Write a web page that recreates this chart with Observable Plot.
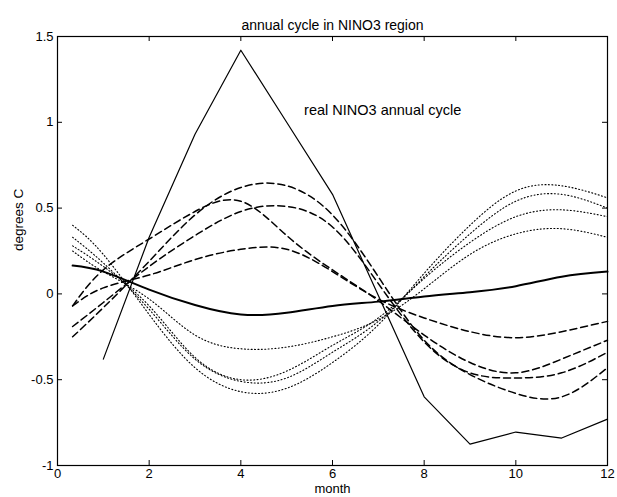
<!DOCTYPE html>
<html><head><meta charset="utf-8">
<script src="https://cdn.jsdelivr.net/npm/d3@7"></script>
<script src="https://cdn.jsdelivr.net/npm/@observablehq/plot@0.6"></script>
<style>html,body{margin:0;padding:0;background:#fff} svg{display:block}</style>
</head><body><div id="chart"></div>
<script>
// ---- data ----
const monthsSmooth = [0.33, 1, 2, 3, 4, 5, 6, 7, 8, 9, 10, 11, 12];
const monthsReal = [1, 2, 3, 4, 5, 6, 7, 8, 9, 10, 11, 12];
const realNino3 = [-0.38, 0.33, 0.93, 1.42, 1.00, 0.58, -0.01, -0.60, -0.875, -0.805, -0.84, -0.73];
const modelCycle = [0.165, 0.13, 0.025, -0.065, -0.12, -0.11, -0.07, -0.045, -0.015, 0.01, 0.045, 0.10, 0.13];
const dashedA = [-0.25, -0.08, 0.19, 0.46, 0.62, 0.63, 0.46, 0.10, -0.27, -0.47, -0.58, -0.60, -0.43];
const dashedB = [-0.07, 0.14, 0.32, 0.48, 0.54, 0.34, 0.14, -0.04, -0.24, -0.40, -0.46, -0.38, -0.27];
const dashedC = [-0.19, -0.05, 0.16, 0.34, 0.48, 0.51, 0.39, 0.06, -0.28, -0.46, -0.49, -0.46, -0.34];
const dashedD = [-0.07, 0.035, 0.11, 0.20, 0.26, 0.26, 0.13, -0.03, -0.14, -0.22, -0.255, -0.22, -0.16];
const dottedA = [0.40, 0.23, -0.12, -0.43, -0.57, -0.55, -0.40, -0.18, 0.12, 0.40, 0.60, 0.63, 0.56];
const dottedB = [0.33, 0.18, -0.09, -0.38, -0.51, -0.49, -0.34, -0.16, 0.10, 0.35, 0.54, 0.58, 0.50];
const dottedC = [0.28, 0.16, -0.07, -0.37, -0.50, -0.45, -0.30, -0.14, 0.09, 0.30, 0.45, 0.49, 0.45];
const dottedD = [0.25, 0.13, -0.03, -0.24, -0.32, -0.31, -0.25, -0.15, 0.03, 0.23, 0.35, 0.38, 0.33];
const xTicks = [0, 2, 4, 6, 8, 10, 12];
const yTicks = [-1, -0.5, 0, 0.5, 1, 1.5];
const titleText = "annual cycle in NINO3 region";
const xLabel = "month";
const yLabel = "degrees C";
const annotations = [{x: 5.38, y: 1.07, text: "real NINO3 annual cycle"}];

// ---- layout ----
const W = 617, H = 497, mL = 57, mR = 10, mT = 36, mB = 32;
const fw = W - mL - mR, fh = H - mT - mB, tick = 5;
const font = "'Liberation Sans', Arial, Helvetica, sans-serif";

const series = (xs, ys) => xs.map((x, i) => ({x, y: ys[i]}));
const smooth = (ys, opts) => Plot.line(series(monthsSmooth, ys), {x: "x", y: "y", curve: "natural", stroke: "black", ...opts});
const dash = {strokeWidth: 1.5, strokeDasharray: "7,4"};
const dot = {strokeWidth: 1.1, strokeDasharray: "1,2.4"};
const inner = (a) => a.slice(1, -1);

const chart = Plot.plot({
  width: W, height: H,
  marginLeft: mL, marginRight: mR, marginTop: mT, marginBottom: mB,
  style: {fontFamily: font, fontSize: "13px", background: "white", color: "black", overflow: "visible"},
  x: {domain: [0, 12]},
  y: {domain: [-1, 1.5]},
  marks: [
    Plot.frame({stroke: "black", strokeWidth: 1.2}),
    Plot.tickX(inner(xTicks), {x: d => d, insetTop: fh - tick, stroke: "black"}),
    Plot.tickX(inner(xTicks), {x: d => d, insetBottom: fh - tick, stroke: "black"}),
    Plot.tickY(inner(yTicks), {y: d => d, insetRight: fw - tick, stroke: "black"}),
    Plot.tickY(inner(yTicks), {y: d => d, insetLeft: fw - tick, stroke: "black"}),
    Plot.axisX({ticks: xTicks, tickSize: 0, tickPadding: 3, tickFormat: d => String(d), label: null, fontSize: 13}),
    Plot.axisY({ticks: yTicks, tickSize: 0, tickPadding: 4, tickFormat: d => String(d), label: null, fontSize: 13}),
    smooth(dottedA, dot), smooth(dottedB, dot), smooth(dottedC, dot), smooth(dottedD, dot),
    smooth(dashedA, dash), smooth(dashedB, dash), smooth(dashedC, dash), smooth(dashedD, dash),
    smooth(modelCycle, {strokeWidth: 2}),
    Plot.line(series(monthsReal, realNino3), {x: "x", y: "y", stroke: "black", strokeWidth: 1.2}),
    Plot.text(annotations, {x: "x", y: "y", text: "text", textAnchor: "start", fontSize: 14.5}),
    Plot.text([titleText], {frameAnchor: "top", dy: -16, text: d => d, fontSize: 14}),
    Plot.text([xLabel], {frameAnchor: "bottom", dy: 27, text: d => d, fontSize: 13}),
    Plot.text([yLabel], {frameAnchor: "left", dx: -39, rotate: -90, text: d => d, fontSize: 13.5})
  ]
});
document.getElementById("chart").appendChild(chart);
</script>
</body></html>
